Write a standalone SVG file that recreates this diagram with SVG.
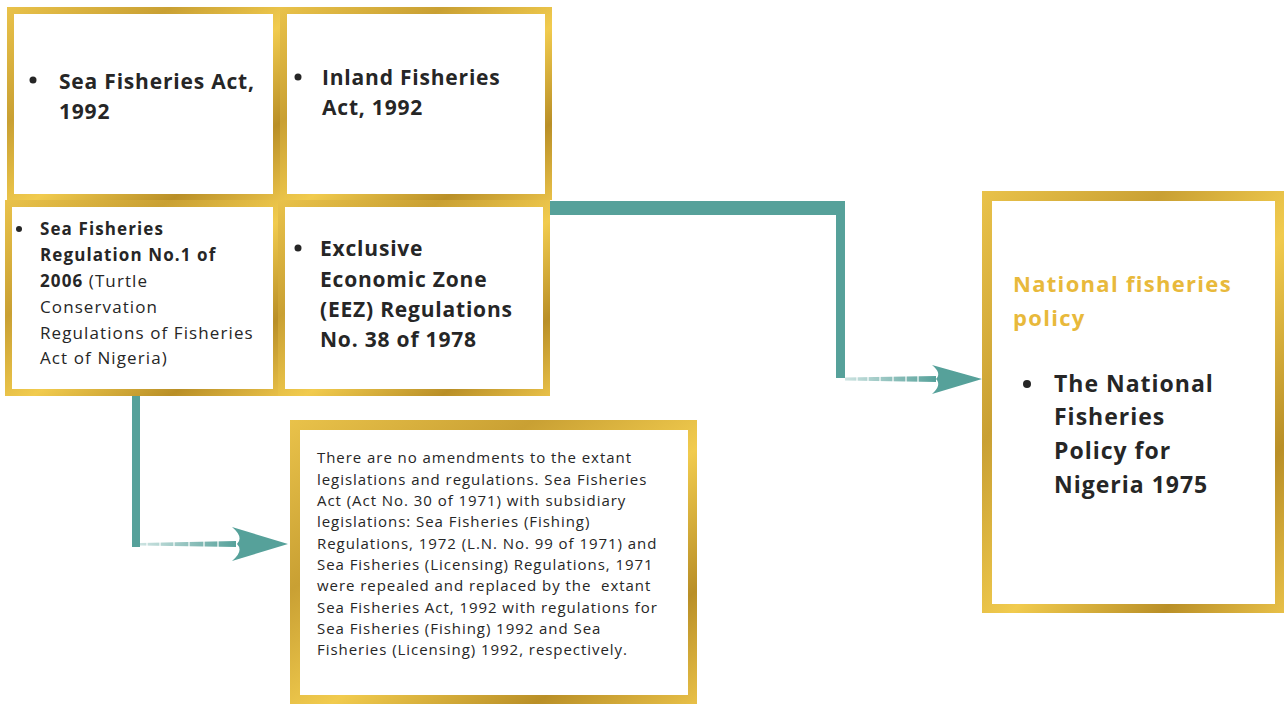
<svg xmlns="http://www.w3.org/2000/svg" width="1285" height="704" viewBox="0 0 1285 704">
<defs>
<linearGradient id="gold" x1="0" y1="0" x2="1" y2="1">
<stop offset="0" stop-color="#E9C24A"/>
<stop offset="0.3" stop-color="#C9A033"/>
<stop offset="0.55" stop-color="#F1CB4E"/>
<stop offset="0.8" stop-color="#B98F27"/>
<stop offset="1" stop-color="#E8C048"/>
</linearGradient>
<linearGradient id="dash" x1="0" y1="0" x2="1" y2="0">
<stop offset="0" stop-color="#56A19A" stop-opacity="0.3"/>
<stop offset="1" stop-color="#56A19A"/>
</linearGradient>
<style>
.frame{fill:url(#gold)}
.inner{fill:#fff}
.b{font-family:"Open Sans","Liberation Sans",sans-serif;font-weight:700;fill:#262626}
.r{font-family:"Open Sans","Liberation Sans",sans-serif;font-weight:400;fill:#262626}
.t{font-family:"Open Sans","Liberation Sans",sans-serif;font-weight:700;fill:#E8B93B}
.teal{fill:#56A19A}
</style>
</defs>
<rect width="1285" height="704" fill="#fff"/>

<g id="connectors">
<rect class="teal" x="547" y="201" width="298" height="14"/>
<rect class="teal" x="836" y="214" width="9" height="164"/>
<path d="M845,377.5 L936,376 L936,382 L845,380.5 Z" fill="url(#dash)"/>
<g stroke="#fff" stroke-width="1.2">
<line x1="857" y1="370" x2="857" y2="390"/><line x1="868" y1="370" x2="868" y2="390"/><line x1="880" y1="370" x2="880" y2="390"/><line x1="893" y1="370" x2="893" y2="390"/><line x1="906" y1="370" x2="906" y2="390"/><line x1="918" y1="370" x2="918" y2="390"/>
</g>
<path class="teal" d="M932,365 L982,379 L932,394 Q942,385 936,379 Q942,373 932,365 Z"/>
<rect class="teal" x="132" y="396" width="8" height="151"/>
<path d="M140,543 L236,541 L236,547 L140,545.5 Z" fill="url(#dash)"/>
<g stroke="#fff" stroke-width="1.2">
<line x1="147" y1="535" x2="147" y2="555"/><line x1="160" y1="535" x2="160" y2="555"/><line x1="174" y1="535" x2="174" y2="555"/><line x1="189" y1="535" x2="189" y2="555"/><line x1="204" y1="535" x2="204" y2="555"/><line x1="218" y1="535" x2="218" y2="555"/>
</g>
<path class="teal" d="M232,527 L288,544 L232,561 Q244,551 237,544 Q244,537 232,527 Z"/>
</g>

<g id="n1">
<rect class="frame" x="7" y="7" width="273" height="193"/>
<rect class="inner" x="14" y="14" width="259" height="180"/>
<circle cx="33" cy="80" r="3.5" fill="#262626"/>
<text class="b" font-size="21" letter-spacing="0.8"><tspan x="59" y="89">Sea Fisheries Act,</tspan><tspan x="59" y="119">1992</tspan></text>
</g>

<g id="n2">
<rect class="frame" x="280" y="7" width="272" height="193"/>
<rect class="inner" x="287" y="14" width="258" height="180"/>
<circle cx="298" cy="77" r="3.5" fill="#262626"/>
<text class="b" font-size="21" letter-spacing="0.8"><tspan x="322" y="85">Inland Fisheries</tspan><tspan x="322" y="115">Act, 1992</tspan></text>
</g>

<g id="n3">
<rect class="frame" x="5" y="200" width="275" height="196"/>
<rect class="inner" x="12" y="207" width="261" height="182"/>
<circle cx="19" cy="229" r="3" fill="#262626"/>
<text font-size="17" letter-spacing="1.1"><tspan class="b" x="40" y="235">Sea Fisheries</tspan><tspan class="b" x="40" y="261">Regulation No.1 of</tspan><tspan class="b" x="40" y="287">2006</tspan><tspan class="r"> (Turtle</tspan><tspan class="r" x="40" y="313">Conservation</tspan><tspan class="r" x="40" y="339">Regulations of Fisheries</tspan><tspan class="r" x="40" y="364">Act of Nigeria)</tspan></text>
</g>

<g id="n4">
<rect class="frame" x="278" y="200" width="272" height="196"/>
<rect class="inner" x="285" y="207" width="258" height="182"/>
<circle cx="298" cy="248" r="3.5" fill="#262626"/>
<text class="b" font-size="21" letter-spacing="0.8"><tspan x="320" y="256">Exclusive</tspan><tspan x="320" y="287">Economic Zone</tspan><tspan x="320" y="317">(EEZ) Regulations</tspan><tspan x="320" y="347">No. 38 of 1978</tspan></text>
</g>

<g id="n5">
<rect class="frame" x="290" y="420" width="407" height="284"/>
<rect class="inner" x="300" y="430" width="388" height="265"/>
<text class="r" font-size="15" letter-spacing="0.95"><tspan x="317" y="463">There are no amendments to the extant</tspan><tspan x="317" y="484.5">legislations and regulations. Sea Fisheries</tspan><tspan x="317" y="506">Act (Act No. 30 of 1971) with subsidiary</tspan><tspan x="317" y="527">legislations: Sea Fisheries (Fishing)</tspan><tspan x="317" y="548.5">Regulations, 1972 (L.N. No. 99 of 1971) and</tspan><tspan x="317" y="570">Sea Fisheries (Licensing) Regulations, 1971</tspan><tspan x="317" y="591">were repealed and replaced by the&#160; extant</tspan><tspan x="317" y="612.5">Sea Fisheries Act, 1992 with regulations for</tspan><tspan x="317" y="634">Sea Fisheries (Fishing) 1992 and Sea</tspan><tspan x="317" y="655">Fisheries (Licensing) 1992, respectively.</tspan></text>
</g>

<g id="n6">
<rect class="frame" x="982" y="191" width="302" height="422"/>
<rect class="inner" x="992" y="201" width="283" height="403"/>
<text class="t" font-size="22" letter-spacing="1.3"><tspan x="1013" y="292">National fisheries</tspan><tspan x="1013" y="326">policy</tspan></text>
<circle cx="1027" cy="384" r="4" fill="#262626"/>
<text class="b" font-size="23" letter-spacing="1"><tspan x="1054" y="392">The National</tspan><tspan x="1054" y="425">Fisheries</tspan><tspan x="1054" y="459">Policy for</tspan><tspan x="1054" y="493">Nigeria 1975</tspan></text>
</g>
</svg>
